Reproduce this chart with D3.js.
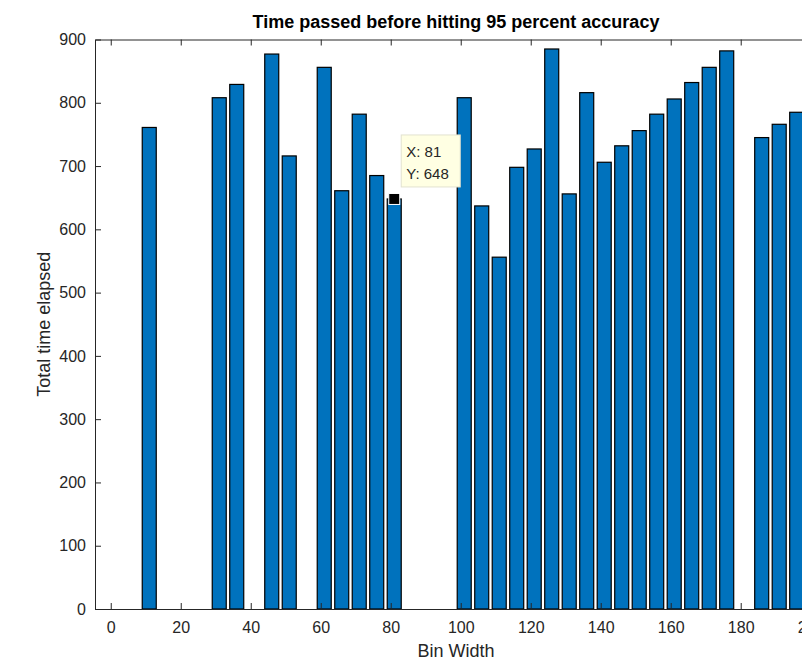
<!DOCTYPE html>
<head>
  <meta charset="utf-8">
  <script src="https://d3js.org/d3.v7.min.js"></script>
</head>
<style>
  body { margin: 0; background: #fff; }
  text { font-family: "Liberation Sans", Arial, Helvetica, sans-serif; }
</style>
<body>
<div id="chart"></div>
<script>
'use strict';

// bin widths (x) and total time elapsed (y)
var binWidth = [11, 31, 36, 46, 51, 61, 66, 71, 76, 81,
                101, 106, 111, 116, 121, 126, 131, 136, 141, 146,
                151, 156, 161, 166, 171, 176, 186, 191, 196];
var timeElapsed = [761, 808, 829, 877, 716, 856, 661, 782, 685, 648,
                   808, 637, 556, 698, 727, 885, 656, 816, 706, 732,
                   756, 782, 806, 832, 856, 882, 745, 766, 785];
var xTicks = [0, 20, 40, 60, 80, 100, 120, 140, 160, 180, 200];
var yTicks = [0, 100, 200, 300, 400, 500, 600, 700, 800, 900];
var tipIndex = 9; // the data tip sits on bin width 81

var width = 802, height = 661;
var plot = {left: 95, right: 817, top: 39.5, bottom: 609};
var data = binWidth.map(function(d, i) { return {x: d, y: timeElapsed[i]}; });

var svg = d3.select("#chart").append("svg")
  .attr("width", width).attr("height", height);

var x = d3.scaleLinear().domain([-4.5, 201.8]).range([plot.left, plot.right]);
var y = d3.scaleLinear().domain([0, 900]).range([plot.bottom, plot.top]);
var barW = x(4) - x(0);

// bars
svg.append("g").attr("class", "bars")
  .selectAll("rect").data(data).enter().append("rect")
  .attr("x", d => x(d.x) - barW / 2)
  .attr("y", d => y(d.y))
  .attr("width", barW)
  .attr("height", d => y(0) - y(d.y))
  .attr("fill", "#0072BD")
  .attr("stroke", "#000")
  .attr("stroke-width", 1.2);

// axes with inward ticks, box on
var tl = 6;
function styleAxis(g, hideText) {
  g.select(".domain").attr("stroke", "#262626").attr("stroke-width", 1);
  g.selectAll(".tick line").attr("stroke", "#262626");
  g.selectAll(".tick text").attr("fill", "#262626").style("font-size", "16px");
  if (hideText) g.selectAll(".tick text").remove();
}

svg.append("g").attr("transform", "translate(0," + plot.bottom + ")")
  .call(d3.axisBottom(x).tickValues(xTicks).tickSizeInner(-tl).tickSizeOuter(0).tickPadding(13))
  .call(g => styleAxis(g, false));
svg.append("g").attr("transform", "translate(0," + plot.top + ")")
  .call(d3.axisTop(x).tickValues(xTicks).tickSizeInner(-tl).tickSizeOuter(0))
  .call(g => styleAxis(g, true));
svg.append("g").attr("transform", "translate(" + plot.left + ",0)")
  .call(d3.axisLeft(y).tickValues(yTicks).tickSizeInner(-tl).tickSizeOuter(0).tickPadding(9))
  .call(g => styleAxis(g, false));
svg.append("g").attr("transform", "translate(" + plot.right + ",0)")
  .call(d3.axisRight(y).tickValues(yTicks).tickSizeInner(-tl).tickSizeOuter(0))
  .call(g => styleAxis(g, true));

// title and labels
svg.append("text")
  .attr("x", (plot.left + plot.right) / 2).attr("y", 28)
  .attr("text-anchor", "middle")
  .style("font-size", "18px").style("font-weight", "bold").attr("fill", "#000")
  .text("Time passed before hitting 95 percent accuracy");

svg.append("text")
  .attr("x", (plot.left + plot.right) / 2).attr("y", 657)
  .attr("text-anchor", "middle")
  .style("font-size", "18px").attr("fill", "#262626")
  .text("Bin Width");

svg.append("text")
  .attr("transform", "translate(50," + (plot.top + plot.bottom) / 2 + ") rotate(-90)")
  .attr("text-anchor", "middle")
  .style("font-size", "18px").attr("fill", "#262626")
  .text("Total time elapsed");

// data tip
var tip = data[tipIndex];
var tx = x(tip.x), ty = y(tip.y);
svg.append("rect")
  .attr("x", tx - 5.5).attr("y", ty - 5.5)
  .attr("width", 11).attr("height", 11)
  .attr("fill", "#000").attr("stroke", "#fff").attr("stroke-width", 1);

var tipG = svg.append("g").attr("transform", "translate(" + (tx + 7) + "," + (ty - 64) + ")");
tipG.append("rect")
  .attr("width", 59).attr("height", 52)
  .attr("fill", "#ffffe3").attr("stroke", "#e2e2cf").attr("stroke-width", 1);
tipG.append("text").attr("x", 5).attr("y", 22)
  .style("font-size", "15px").attr("fill", "#262626")
  .text("X: " + tip.x);
tipG.append("text").attr("x", 5).attr("y", 44)
  .style("font-size", "15px").attr("fill", "#262626")
  .text("Y: " + tip.y);
</script>
</body>
